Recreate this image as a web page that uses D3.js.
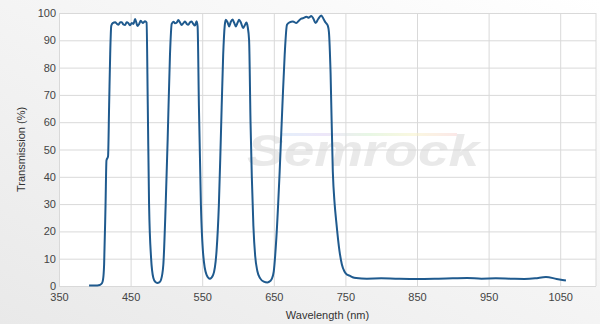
<!DOCTYPE html>
<html>
<head>
<meta charset="utf-8">
<script src="https://cdn.jsdelivr.net/npm/d3@7"></script>
<style>
  body { margin: 0; background: #fff; }
  svg { display: block; font-family: "Liberation Sans", Arial, sans-serif; }
  .grid line { stroke: #d9d9d9; stroke-width: 1; }
  .grid path { stroke: none; }
  .tick text { fill: #444; font-size: 11px; }
</style>
</head>
<body>
<div id="chart"></div>
<script>
// transmission spectrum
var wavelength = [392, 400, 407, 410, 411.5, 413, 415, 416.3, 418.5, 420, 421.5, 423, 425, 428.4, 431, 433,
  435.5, 437.7, 440, 442.3, 444.5, 446.9, 449, 451.7, 454, 456.3, 458, 459.5, 462, 464.2, 467, 470.2, 472.3,
  474, 475.8, 478.6, 481.8, 484.5, 487.3, 490, 492.5, 495.7, 499, 501.8, 505, 507.4, 510, 512, 514.5, 516.6,
  519, 521.3, 524, 526, 528.5, 530.5, 533, 535.2, 537.5, 539.8, 542.2, 543.6, 545.4, 548.2, 551.4, 556.1,
  560.7, 565.3, 570, 573.3, 576, 579.3, 581.5, 583, 585.5, 587.6, 590, 592.3, 594.5, 597, 599.5, 601.5, 604,
  607.1, 609.5, 611.8, 613.5, 615.5, 617.5, 619.3, 621.5, 624, 627, 631, 636, 641, 645, 647, 649.9, 653.6,
  658.2, 662, 665.2, 668.4, 672, 676.7, 681.5, 685, 688.4, 692, 695.4, 699, 702.4, 705.5, 708.4, 712, 716.3,
  719.5, 722.3, 725.5, 727, 729.3, 732.4, 735, 737.2, 741.8, 745, 748.7, 752, 755.7, 760, 765, 780, 800, 820,
  850, 880, 900, 920, 940, 960, 980, 1000, 1015, 1030, 1045, 1058];
var transmission = [0.2, 0.2, 0.4, 1.0, 2.3, 7.8, 29.8, 46, 47.5, 66, 85, 95.3, 96.3, 96.6, 96.0, 95.7,
  96.6, 96.6, 95.8, 95.6, 96.6, 96.3, 95.5, 96.3, 96.0, 97.8, 96.5, 95.2, 96.0, 97.2, 96.3, 97.0, 96.5,
  66, 29.8, 10.3, 2.9, 1.5, 1.1, 1.3, 2.3, 7.8, 29.8, 54, 84.7, 96.0, 96.8, 96.2, 96.5, 97.4,
  96.5, 95.6, 96.4, 96.9, 96.0, 95.7, 96.6, 96.9, 96.0, 95.4, 97.0, 95, 66, 29.8, 11.5, 4.1,
  2.7, 4.1, 12.7, 29.8, 54, 84.7, 95.5, 97.5, 96.5, 95.1, 96.8, 97.6, 96.5, 95.1, 96.5, 97.5, 96.5,
  94.5, 95.5, 96.5, 95.0, 90, 60, 40, 22, 11, 5.5, 2.8, 1.6, 1.3, 1.8, 2.5, 5.3, 17.7,
  42, 66, 84.7, 95.7, 96.6, 96.9, 96.3, 97.2, 97.9, 98.2, 98.6, 98.3, 98.9, 97.8, 96.3, 97.8, 99.1,
  97.8, 96.5, 95.3, 93, 78, 42, 30, 23.7, 12.7, 8, 5.3, 4.2, 3.8, 3.2, 2.9, 2.7, 2.8, 2.7,
  2.6, 2.7, 2.8, 2.9, 2.7, 2.8, 2.7, 2.6, 2.8, 3.3, 2.6, 2.0];

var xTicks = [350, 450, 550, 650, 750, 850, 950, 1050];
var yTicks = [0, 10, 20, 30, 40, 50, 60, 70, 80, 90, 100];

var svgWidth = 600;
var svgHeight = 324;
var margin = { top: 13, right: 4, bottom: 38, left: 59 };
var width = svgWidth - margin.left - margin.right;
var height = svgHeight - margin.top - margin.bottom;

var svg = d3.select("#chart")
  .append("svg")
  .attr("width", svgWidth)
  .attr("height", svgHeight);

// soft grey backdrop
var defs = svg.append("defs");
var bg = defs.append("linearGradient")
  .attr("id", "bg")
  .attr("x1", "1").attr("y1", "0")
  .attr("x2", "0").attr("y2", "1");
bg.append("stop").attr("offset", "0").attr("stop-color", "#ffffff");
bg.append("stop").attr("offset", "1").attr("stop-color", "#e9e9e9");

var rainbow = defs.append("linearGradient").attr("id", "rainbow");
["#cfe3f7", "#e0d4f5", "#d6f2d0", "#f7f3c8", "#f9d6d6"].forEach(function(c, i, a) {
  rainbow.append("stop").attr("offset", i / (a.length - 1)).attr("stop-color", c);
});

svg.append("rect")
  .attr("width", svgWidth)
  .attr("height", svgHeight)
  .attr("fill", "url(#bg)");

var chartGroup = svg.append("g")
  .attr("transform", `translate(${margin.left}, ${margin.top})`);

chartGroup.append("rect")
  .attr("width", width)
  .attr("height", height)
  .attr("fill", "#fff");

var xScale = d3.scaleLinear().domain([350, 1100]).range([0, width]);
var yScale = d3.scaleLinear().domain([0, 100]).range([height, 0]);

// grid + tick labels
chartGroup.append("g")
  .attr("class", "grid")
  .attr("transform", `translate(0, ${height})`)
  .call(d3.axisBottom(xScale).tickValues(xTicks).tickFormat(d3.format("d"))
    .tickSize(-height).tickPadding(7));

chartGroup.append("g")
  .attr("class", "grid")
  .call(d3.axisLeft(yScale).tickValues(yTicks).tickSize(-width).tickPadding(3));

// right edge of the plot
chartGroup.append("line")
  .attr("x1", width).attr("x2", width)
  .attr("y1", 0).attr("y2", height)
  .attr("stroke", "#d9d9d9");

// watermark
var mark = chartGroup.append("g").attr("opacity", 0.55);
mark.append("rect")
  .attr("x", 222).attr("y", 120)
  .attr("width", 176).attr("height", 3)
  .attr("fill", "url(#rainbow)");
mark.append("text")
  .attr("x", 188).attr("y", 153)
  .attr("font-size", 44)
  .attr("font-weight", "bold")
  .attr("font-style", "italic")
  .attr("textLength", 232)
  .attr("lengthAdjust", "spacingAndGlyphs")
  .attr("fill", "#d8d8d8")
  .text("Semrock");

// spectrum
var line = d3.line()
  .x(function(d, i) { return xScale(wavelength[i]); })
  .y(function(d) { return yScale(d); })
  .curve(d3.curveMonotoneX);

chartGroup.append("path")
  .datum(transmission)
  .attr("d", line)
  .attr("fill", "none")
  .attr("stroke", "#1f5a8e")
  .attr("stroke-width", 2)
  .attr("stroke-linejoin", "round");

// axis titles
chartGroup.append("text")
  .attr("transform", "rotate(-90)")
  .attr("x", -height / 2)
  .attr("y", -34)
  .attr("text-anchor", "middle")
  .attr("font-size", 11)
  .attr("fill", "#333")
  .text("Transmission (%)");

chartGroup.append("text")
  .attr("x", width / 2)
  .attr("y", height + 33)
  .attr("text-anchor", "middle")
  .attr("font-size", 11)
  .attr("fill", "#333")
  .text("Wavelength (nm)");
</script>
</body>
</html>
